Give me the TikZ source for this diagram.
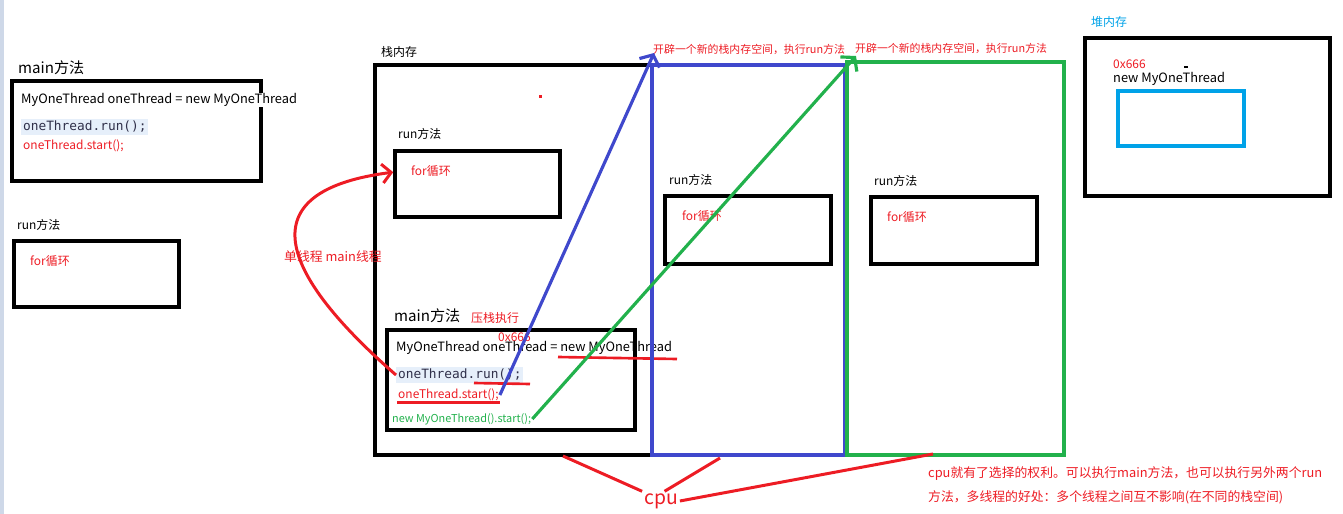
\documentclass[tikz,border=0pt]{standalone}
\usepackage{fontspec}
\setmainfont{Noto Sans CJK SC}
\newfontfamily\codefont{DejaVu Sans Mono}
\usetikzlibrary{arrows.meta, positioning, fit}
\definecolor{PaintRed}{HTML}{ED1C24}
\definecolor{PaintBlue}{HTML}{3F48CC}
\definecolor{PaintGreen}{HTML}{22B14C}
\definecolor{PaintCyan}{HTML}{00A2E8}
\definecolor{CodeBg}{HTML}{E6EFFA}
\definecolor{CodeInk}{HTML}{30304A}
\definecolor{EdgeBar}{HTML}{CED8E8}
\tikzset{
  framebox/.style={draw=#1, line width=2pt, inner sep=0pt},
  lbl/.style={anchor=west, inner sep=0.5pt, font=\fontsize{6.8}{8}\selectfont, text=#1},
  biglbl/.style={anchor=west, inner sep=0.5pt, font=\fontsize{8.6}{10}\selectfont},
  codecall/.style={anchor=west, inner sep=1pt, fill=CodeBg, text=CodeInk,
                   font=\codefont\fontsize{7.3}{9}\selectfont},
  notelbl/.style={anchor=west, inner sep=0.5pt, text=PaintRed,
                  font=\fontsize{6.2}{7}\selectfont},
}

\begin{document}
\begin{tikzpicture}[
    x=0.02cm, y=-0.02cm,
    redarr/.style={-{Straight Barb[length=1.8mm, width=3.8mm]}, line width=1.7pt, color=PaintRed},
    runarr/.style={-{Straight Barb[length=1.8mm, width=4.4mm]}, line width=1.8pt, color=#1},
    cpuline/.style={line width=1.7pt, color=PaintRed},
    underline/.style={line width=1.5pt, color=PaintRed},
    decl/.style={lbl=black, font=\fontsize{7.3}{9}\selectfont}
  ]
  \useasboundingbox (0,0) rectangle (1343,514);
  \fill[EdgeBar] (0,0) rectangle (4,514);

  % left: main method and run method
  \node[biglbl] (mainLbl) at (17,68) {main方法};
  \node[framebox=black, fit={(12,81) (261,181)}] (mainBox) {};
  \node[decl, fill=white] (declL) at (20,100) {MyOneThread oneThread = new MyOneThread};
  \node[codecall] (runL) at (21,127) {oneThread.run();};
  \node[lbl=PaintRed] (startL) at (22,146) {oneThread.start();};
  \node[lbl=black] (runLblL) at (16,225) {run方法};
  \node[framebox=black, fit={(14,241) (179,307)}] (runBoxL) {};
  \node[lbl=PaintRed] (forL) at (29,261) {for循环};

  % stack memory
  \node[lbl=black] (stackLbl) at (380,52) {栈内存};
  \node[framebox=black, fit={(375,65) (652,455)}] (stackBox) {};
  \fill[PaintRed] (539,95) rectangle (542,98);
  \node[lbl=black] (runLblA) at (397,134) {run方法};
  \node[framebox=black, fit={(395,151) (560,217)}] (runBoxA) {};
  \node[lbl=PaintRed] (forA) at (410,171) {for循环};
  \node[biglbl] (mainLblM) at (393,316) {main方法};
  \node[lbl=PaintRed] (pushLbl) at (470,318) {压栈执行};
  \node[framebox=black, fit={(387,330) (635,430)}] (mainBoxM) {};
  \node[lbl=PaintRed] (addrM) at (497,337) {0x666};
  \node[decl] (declM) at (395,348) {MyOneThread oneThread = new MyOneThread};
  \node[codecall] (runM) at (396,375) {oneThread.run();};
  \node[lbl=PaintRed] (startM) at (397,395) {oneThread.start();};
  \node[lbl=PaintGreen, font=\fontsize{6.2}{7}\selectfont] (newStart) at (391,419) {new MyOneThread().start();};

  % red marks under the code
  \draw[underline] (558,357) -- (677,359);
  \draw[underline] (474,383) -- (530,384);
  \draw[underline] (startM.south west) -- (startM.south east);

  % new stacks
  \node[framebox=PaintBlue, fit={(652,65) (845,455)}] (stackBlue) {};
  \node[framebox=PaintGreen, fit={(847,62) (1064,455)}] (stackGreen) {};
  \node[notelbl] (openA) at (652,49) {开辟一个新的栈内存空间，执行run方法};
  \node[notelbl] (openB) at (854,48) {开辟一个新的栈内存空间，执行run方法};
  \node[lbl=black] (runLblB) at (668,180) {run方法};
  \node[framebox=black, fit={(665,196) (831,264)}] (runBoxB) {};
  \node[lbl=PaintRed] (forB) at (681,216) {for循环};
  \node[lbl=black] (runLblC) at (873,181) {run方法};
  \node[framebox=black, fit={(871,197) (1037,264)}] (runBoxC) {};
  \node[lbl=PaintRed] (forC) at (886,217) {for循环};

  % heap memory
  \node[lbl=PaintCyan] (heapLbl) at (1090,22) {堆内存};
  \node[framebox=black, fit={(1085,38) (1330,196)}] (heapBox) {};
  \node[lbl=PaintRed] (addrH) at (1112,64) {0x666};
  \draw[line width=0.6pt] (1184,67) -- (1188,67);
  \node[decl] (objH) at (1112,79) {new MyOneThread};
  \node[framebox=PaintCyan, fit={(1118,91) (1244,146)}] (objBox) {};

  % threads
  \coordinate (topBlue) at (654,53);
  \coordinate (topGreen) at (856,56);
  \draw[runarr=PaintBlue] (startM.east) -- (topBlue);
  \draw[runarr=PaintGreen] (newStart.east) -- (topGreen);
  \draw[redarr] (runM.west) .. controls (270,265) and (255,190) .. (runBoxA.172);
  \node[lbl=PaintRed, font=\fontsize{7.3}{9}\selectfont] (singleLbl) at (283,257) {单线程 main线程};

  % cpu
  \node[text=PaintRed, inner sep=1pt, font=\fontsize{11}{13}\selectfont] (cpu) at (661,501) {cpu};
  \coordinate (cpuA) at (563,456);
  \coordinate (cpuB) at (720,458);
  \coordinate (cpuC) at (933,454);
  \draw[cpuline] (cpuA) -- (cpu.north west);
  \draw[cpuline] (cpuB) -- (cpu.70);
  \draw[cpuline] (cpu.east) -- (cpuC);
  \node[lbl=PaintRed, font=\fontsize{7.3}{9}\selectfont] (noteA) at (927,474) {cpu就有了选择的权利。可以执行main方法，也可以执行另外两个run};
  \node[lbl=PaintRed, font=\fontsize{7.3}{9}\selectfont] (noteB) at (927,497) {方法，多线程的好处：多个线程之间互不影响(在不同的栈空间)};
\end{tikzpicture}
\end{document}
